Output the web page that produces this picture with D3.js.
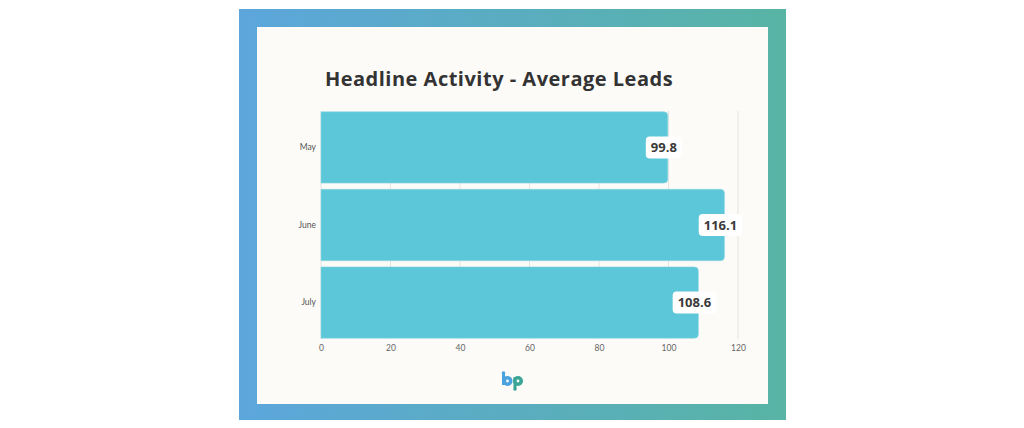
<!DOCTYPE html>
<html>
<head>
<meta charset="utf-8">
<script src="https://cdn.jsdelivr.net/npm/d3@7"></script>
<style>
  html, body { margin: 0; padding: 0; background: #ffffff; }
  svg { display: block; }
</style>
</head>
<body>
<svg id="chart" width="1024" height="428"></svg>
<script>
// data
const months = ["May", "June", "July"];
const avgLeads = [99.8, 116.1, 108.6];
const valueLabels = ["99.8", "116.1", "108.6"];
const xTicks = [0, 20, 40, 60, 80, 100, 120];
const title = "Headline Activity - Average Leads";

const svg = d3.select("#chart");

// frame gradient
const defs = svg.append("defs");
const grad = defs.append("linearGradient")
    .attr("id", "frame-gradient")
    .attr("x1", 0).attr("y1", 0)
    .attr("x2", 1).attr("y2", 0);
grad.append("stop").attr("offset", "0%").attr("stop-color", "#5ca6dc");
grad.append("stop").attr("offset", "100%").attr("stop-color", "#58b4a4");

svg.append("rect")
    .attr("x", 239).attr("y", 9)
    .attr("width", 547).attr("height", 411)
    .attr("fill", "url(#frame-gradient)");

svg.append("rect")
    .attr("x", 257).attr("y", 27)
    .attr("width", 511).attr("height", 377)
    .attr("fill", "#fcfbf8");

// title
svg.append("text")
    .attr("x", 499).attr("y", 86)
    .attr("text-anchor", "middle")
    .style("font-family", "'Open Sans', sans-serif")
    .style("font-weight", 700)
    .style("font-size", "20px")
    .style("letter-spacing", "0.5px")
    .style("fill", "#333333")
    .text(title);

// scales
const x = d3.scaleLinear()
    .domain([0, 120])
    .range([321, 738]);

const y = d3.scaleBand()
    .domain(months)
    .range([111, 339])
    .paddingInner(0.08)
    .paddingOuter(0.01);

const data = months.map(function(m, i) {
    return { month: m, value: avgLeads[i], label: valueLabels[i] };
});

// grid
svg.append("g")
    .selectAll("line")
    .data(xTicks).enter()
    .append("line")
    .attr("x1", function(d) { return x(d); })
    .attr("x2", function(d) { return x(d); })
    .attr("y1", 111)
    .attr("y2", 339)
    .attr("stroke", "#e6e4e0")
    .attr("stroke-width", 1);

// x axis
const xAxis = svg.append("g")
    .attr("transform", "translate(0, 339)")
    .call(d3.axisBottom(x).tickValues(xTicks).tickSize(0).tickPadding(6));
xAxis.select(".domain").remove();
xAxis.selectAll("text")
    .style("font-family", "Lato, sans-serif")
    .style("font-size", "8.5px")
    .style("fill", "#666666");

// y axis
const yAxis = svg.append("g")
    .attr("transform", "translate(321, 0)")
    .call(d3.axisLeft(y).tickSize(0).tickPadding(5));
yAxis.select(".domain").remove();
yAxis.selectAll("text")
    .style("font-family", "Lato, sans-serif")
    .style("font-size", "8.5px")
    .style("fill", "#555555");

// bars: square left edge, rounded right edge
const r = 4;
function barPath(d) {
    const x0 = x(0), x1 = x(d.value);
    const y0 = y(d.month), y1 = y0 + y.bandwidth();
    return "M" + x0 + "," + y0 +
        "H" + (x1 - r) +
        "Q" + x1 + "," + y0 + " " + x1 + "," + (y0 + r) +
        "V" + (y1 - r) +
        "Q" + x1 + "," + y1 + " " + (x1 - r) + "," + y1 +
        "H" + x0 + "Z";
}

svg.append("g")
    .selectAll("path")
    .data(data).enter()
    .append("path")
    .attr("d", barPath)
    .attr("fill", "#5bc7d9")
    .attr("stroke", "#8fd6e3")
    .attr("stroke-width", 0.6);

// value labels
const labels = svg.append("g")
    .selectAll("g")
    .data(data).enter()
    .append("g")
    .attr("transform", function(d) {
        return "translate(" + (x(d.value) - 4) + "," + (y(d.month) + y.bandwidth() / 2) + ")";
    });

labels.append("text")
    .attr("text-anchor", "middle")
    .attr("dy", "0.35em")
    .style("font-family", "'Open Sans', sans-serif")
    .style("font-weight", 700)
    .style("font-size", "13px")
    .style("fill", "#3a3a3a")
    .text(function(d) { return d.label; })
    .each(function() {
        const b = this.getBBox();
        d3.select(this.parentNode).insert("rect", "text")
            .attr("x", b.x - 5)
            .attr("y", -11)
            .attr("width", b.width + 10)
            .attr("height", 22)
            .attr("rx", 4)
            .attr("fill", "#ffffff");
    });

// logo
const logo = svg.append("g").attr("transform", "translate(512, 381)");
logo.append("rect").attr("x", -10).attr("y", -7).attr("width", 3).attr("height", 11).attr("fill", "#4aa3df");
logo.append("circle").attr("cx", -8.5).attr("cy", -8).attr("r", 1.8).attr("fill", "#4aa3df");
logo.append("circle").attr("cx", -4.5).attr("cy", 0).attr("r", 5).attr("fill", "#4aa3df");
logo.append("circle").attr("cx", -4.5).attr("cy", 0).attr("r", 1.4).attr("fill", "#fcfbf8");
logo.append("rect").attr("x", 1.5).attr("y", -4).attr("width", 3).attr("height", 11).attr("fill", "#3aa597");
logo.append("circle").attr("cx", 3).attr("cy", 8).attr("r", 1.8).attr("fill", "#3aa597");
logo.append("circle").attr("cx", 6).attr("cy", 0).attr("r", 5).attr("fill", "#3aa597");
logo.append("circle").attr("cx", 6).attr("cy", 0).attr("r", 1.4).attr("fill", "#fcfbf8");
</script>
</body>
</html>
